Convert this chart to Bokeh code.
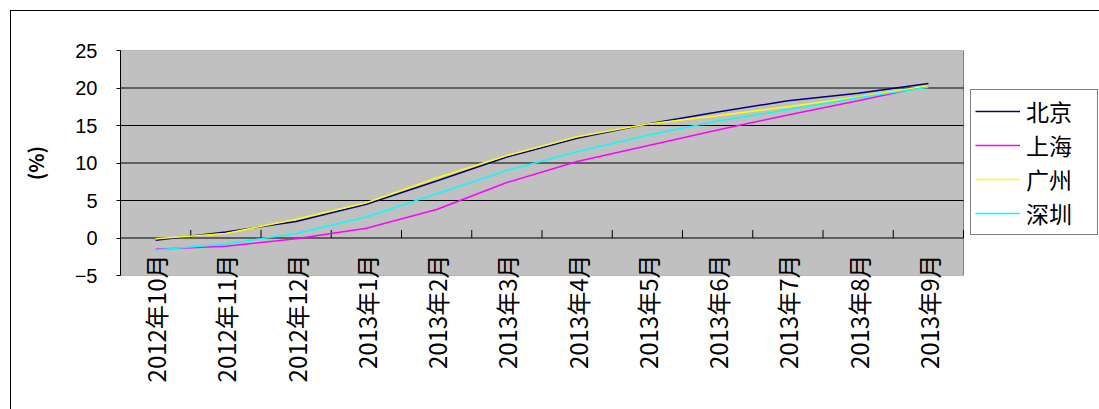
import math
from bokeh.plotting import figure
from bokeh.models import Range1d, FixedTicker, Legend, LegendItem
from bokeh.embed import file_html
from bokeh.resources import INLINE

months = ["2012年10月", "2012年11月", "2012年12月", "2013年1月", "2013年2月", "2013年3月",
          "2013年4月", "2013年5月", "2013年6月", "2013年7月", "2013年8月", "2013年9月"]
beijing = [-0.3, 0.8, 2.2, 4.5, 7.6, 10.8, 13.3, 15.2, 16.8, 18.3, 19.3, 20.6]
shanghai = [-1.5, -1.1, -0.1, 1.3, 3.8, 7.4, 10.2, 12.3, 14.4, 16.4, 18.3, 20.3]
guangzhou = [-0.1, 0.6, 2.5, 4.7, 8.0, 11.0, 13.5, 15.2, 16.3, 17.5, 18.8, 20.3]
shenzhen = [-1.6, -0.8, 0.6, 2.8, 5.9, 9.0, 11.5, 13.7, 15.6, 17.1, 18.7, 20.1]
series_names = ["北京", "上海", "广州", "深圳"]
series_colors = ["#000080", "#FF00FF", "#FFFF00", "#00FFFF"]
y_ticks = [-5, 0, 5, 10, 15, 20, 25]
y_tick_labels = ["−5", "0", "5", "10", "15", "20", "25"]
y_title = "(%)"

W, H = 1099, 409
L, T, B = 120, 50, 134
PLOT_RIGHT = 963          # right edge of the grey plot area (px)
frame_w = W - L
frame_h = H - T - B
n = len(months)
x_end = n * frame_w / (PLOT_RIGHT - L)

p = figure(width=W, height=H, output_backend="svg", toolbar_location=None, title=None,
           x_range=Range1d(0, x_end), y_range=Range1d(y_ticks[0], y_ticks[-1]),
           min_border_left=L, min_border_right=0, min_border_top=T, min_border_bottom=B)
p.background_fill_color = None
p.border_fill_color = None
p.outline_line_color = None
# outer chart-area border (left and top edges visible in the window)
p.styles = {
    "background-color": "white",
    "background-image": "linear-gradient(#000,#000), linear-gradient(#000,#000)",
    "background-size": "1px 100%, 100% 1px",
    "background-position": "10px 10px, 10px 10px",
    "background-repeat": "no-repeat",
}

x_pos = [i + 0.5 for i in range(n)]

# grey plot area
p.quad(left=[0], right=[n], bottom=[y_ticks[0]], top=[y_ticks[-1]],
       fill_color="#C0C0C0", line_color="#808080", line_width=1)

# horizontal grid lines inside the plot area
p.xgrid.visible = False
p.ygrid.visible = False
gy = y_ticks[1:-1]
p.segment(x0=[0] * len(gy), y0=gy, x1=[n] * len(gy), y1=gy, line_color="black", line_width=1)

# y axis
ya = p.yaxis[0]
ya.ticker = FixedTicker(ticks=y_ticks)
ya.major_label_overrides = dict(zip(y_ticks, y_tick_labels))
ya.major_tick_out = 4
ya.major_tick_in = 0
ya.minor_tick_out = 0
ya.minor_tick_in = 0
ya.axis_line_color = "black"
ya.major_tick_line_color = "black"
ya.major_label_standoff = 19
ya.major_label_text_font = "Liberation Sans"
ya.major_label_text_font_size = "20px"
ya.major_label_text_color = "black"
ya.axis_label = y_title
ya.axis_label_text_font = "Noto Sans CJK SC"
ya.axis_label_text_font_size = "20px"
ya.axis_label_text_font_style = "bold"
ya.axis_label_text_color = "black"
ya.axis_label_standoff = 22

# x axis (labels only)
xa = p.xaxis[0]
xa.ticker = FixedTicker(ticks=x_pos)
xa.major_label_overrides = dict(zip(x_pos, months))
xa.major_label_orientation = math.pi / 2
xa.major_label_standoff = -21
xa.major_tick_out = 0
xa.major_tick_in = 0
xa.minor_tick_out = 0
xa.minor_tick_in = 0
xa.axis_line_color = None
xa.major_tick_line_color = None
xa.major_label_text_font = "Noto Sans CJK SC"
xa.major_label_text_font_size = "24px"
xa.major_label_text_color = "black"

# category boundary ticks on the zero line
tick_len = 8 * (y_ticks[-1] - y_ticks[0]) / frame_h
bx = list(range(1, n + 1))
p.segment(x0=bx, y0=[0] * len(bx), x1=bx, y1=[tick_len] * len(bx), line_color="black", line_width=1)

# series
renderers = []
for name, vals, col in zip(series_names, [beijing, shanghai, guangzhou, shenzhen], series_colors):
    r = p.line(x_pos, vals, line_color=col, line_width=1.5)
    renderers.append((name, r))

legend = Legend(items=[LegendItem(label=nm, renderers=[r]) for nm, r in renderers],
                location=(850, 40), orientation="vertical",
                border_line_color="black", border_line_width=1,
                background_fill_color="white", background_fill_alpha=1,
                label_text_font="Noto Sans CJK SC", label_text_font_size="23px",
                label_text_color="black",
                glyph_width=45, glyph_height=28, label_height=28, spacing=-8,
                padding=4, margin=0, label_standoff=6, label_width=67)
p.add_layout(legend)

open("out.html", "w").write(file_html(p, INLINE))
